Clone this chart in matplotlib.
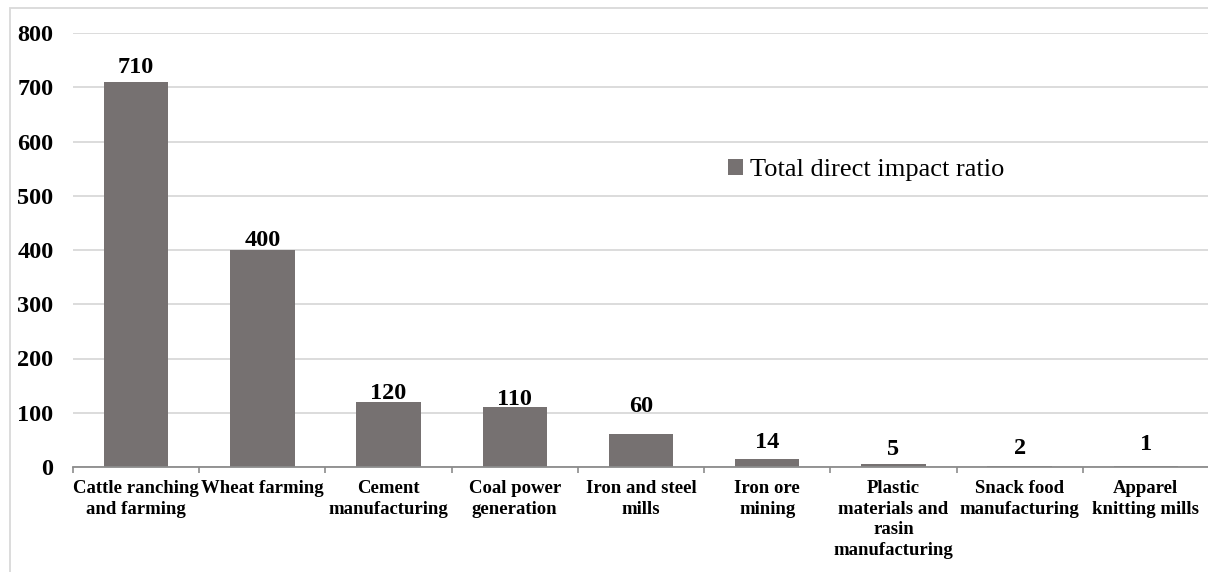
import matplotlib
matplotlib.use('Agg')
import matplotlib.pyplot as plt
from matplotlib.patches import Rectangle
import numpy as np

plt.rcParams['font.family'] = ['Liberation Serif', 'DejaVu Serif']

industries = ['Cattle ranching\nand farming', 'Wheat farming', 'Cement\nmanufacturing',
              'Coal power\ngeneration', 'Iron and steel\nmills', 'Iron ore\nmining',
              'Plastic\nmaterials and\nrasin\nmanufacturing', 'Snack food\nmanufacturing',
              'Apparel\nknitting mills']
impact_ratio = [710, 400, 120, 110, 60, 14, 5, 2, 1]
# gap (points) between each bar top and its value label
label_pad = [6, 3, 2, 2, 16.5, 8, 7, 8.5, 11.5]

bar_color = '#767171'
grid_color = '#d9d9d9'

fig = plt.figure(figsize=(12.08, 5.72), dpi=100)
W, H = 1208, 572
ax = fig.add_axes([73 / W, 1 - 467 / H, (1209 - 73) / W, (467 - 33) / H])

x = np.arange(len(industries))
bars = ax.bar(x, impact_ratio, width=0.51, color=bar_color, zorder=3,
              label='Total direct impact ratio')

for xi, v, pad in zip(x, impact_ratio, label_pad):
    ax.annotate(str(v), (xi, v), xytext=(0, pad), textcoords='offset points',
                ha='center', va='baseline', fontsize=17.5, fontweight='bold')

ax.set_xlim(-0.5, len(industries) - 0.5)
ax.set_ylim(0, 800)
ax.set_yticks(np.arange(0, 801, 100))
ax.yaxis.grid(True, color=grid_color, linewidth=1.3, zorder=0)
ax.tick_params(axis='y', length=0, pad=14, labelsize=17.5)
for lbl in ax.get_yticklabels():
    lbl.set_fontweight('bold')

ax.set_xticks(x)
ax.set_xticklabels(industries, fontsize=13.5, fontweight='bold', linespacing=1.28)
ax.tick_params(axis='x', which='major', length=0, pad=9.5)
ax.set_xticks(np.arange(-0.5, len(industries) + 0.5, 1), minor=True)
ax.tick_params(axis='x', which='minor', length=4, width=1.2, color='#8c8c8c', direction='out')

for side in ['top', 'right', 'left']:
    ax.spines[side].set_visible(False)
ax.spines['bottom'].set_color('#8c8c8c')
ax.spines['bottom'].set_linewidth(1.3)
ax.spines['bottom'].set_zorder(4)

ax.legend(loc='center left', bbox_to_anchor=(728 / W, 1 - 170 / H),
          bbox_transform=fig.transFigure, frameon=False, fontsize=19,
          handlelength=0.55, handleheight=0.55, handletextpad=0.3,
          borderpad=0, borderaxespad=0)

# light chart border
fig.patches.append(Rectangle((10 / W, -0.1), 1.2, 1 - 8 / H + 0.1,
                             transform=fig.transFigure, fill=False,
                             edgecolor=grid_color, linewidth=1.3, zorder=0))

fig.savefig('out.png', dpi=100)
